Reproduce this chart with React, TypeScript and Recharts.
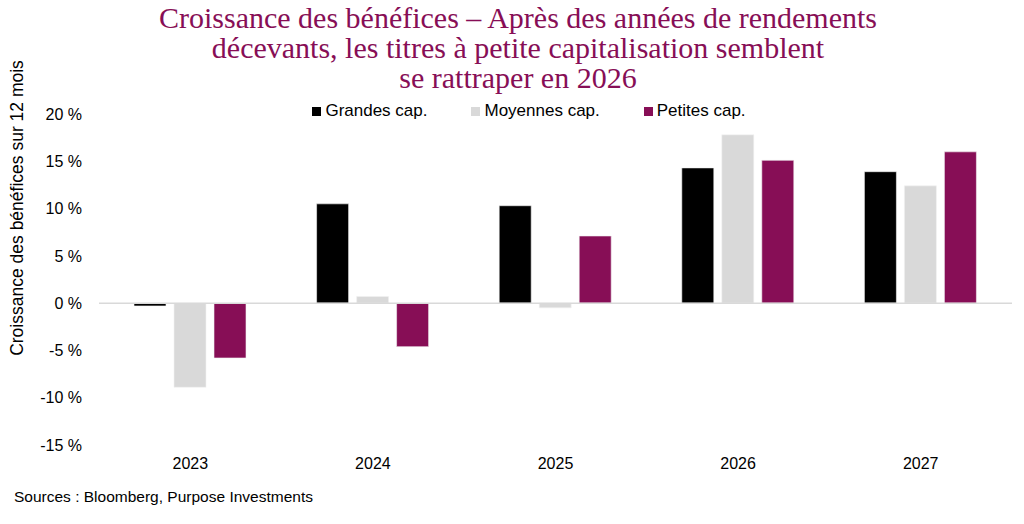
import { Bar, BarChart, Legend, ReferenceLine, XAxis, YAxis } from 'recharts'

const years = ['2023', '2024', '2025', '2026', '2027']
const grandes = [-0.3, 10.5, 10.3, 14.3, 13.9]
const moyennes = [-8.9, 0.7, -0.5, 17.8, 12.4]
const petites = [-5.8, -4.6, 7.1, 15.1, 16.0]
const yTicks = [-15, -10, -5, 0, 5, 10, 15, 20]

const series = [
  { key: 'grandes', name: 'Grandes cap.', color: '#000000' },
  { key: 'moyennes', name: 'Moyennes cap.', color: '#d9d9d9' },
  { key: 'petites', name: 'Petites cap.', color: '#870e56' },
]

const data = years.map((y, i) => ({
  year: y,
  grandes: grandes[i],
  moyennes: moyennes[i],
  petites: petites[i],
}))

const SANS = '"Liberation Sans", Arial, sans-serif'

function LegendRow() {
  return (
    <div
      style={{
        display: 'flex',
        justifyContent: 'center',
        gap: 44,
        paddingLeft: 34,
        fontFamily: SANS,
        fontSize: 17,
        lineHeight: '20px',
        color: '#000',
      }}
    >
      {series.map(s => (
        <div key={s.key} style={{ display: 'flex', alignItems: 'center' }}>
          <span style={{ width: 9, height: 9, background: s.color, marginRight: 4, display: 'inline-block' }} />
          <span>{s.name}</span>
        </div>
      ))}
    </div>
  )
}

function YLabel({ viewBox }: { viewBox?: { x: number; y: number } }) {
  const x = (viewBox?.x ?? 0) + 23
  const y = 208
  return (
    <text
      x={x}
      y={y}
      transform={`rotate(-90, ${x}, ${y})`}
      textAnchor="middle"
      fontFamily={SANS}
      fontSize={17.5}
      fill="#000"
    >
      Croissance des bénéfices sur 12 mois
    </text>
  )
}

export default function App() {
  return (
    <div style={{ position: 'absolute', left: 0, top: 0, width: 1024, height: 524, background: '#fff' }}>
      <div
        style={{
          position: 'absolute',
          top: 3,
          left: 6,
          width: 1024,
          textAlign: 'center',
          fontFamily: '"Liberation Serif", "Times New Roman", serif',
          fontSize: 30,
          lineHeight: '30px',
          color: '#870e56',
        }}
      >
        Croissance des bénéfices – Après des années de rendements
        <br />
        décevants, les titres à petite capitalisation semblent
        <br />
        se rattraper en 2026
      </div>
      <BarChart
        width={1024}
        height={524}
        data={data}
        margin={{ top: 94, right: 12, bottom: 49, left: 0 }}
        barSize={32}
        barGap={8}
      >
        <XAxis
          dataKey="year"
          height={30}
          axisLine={false}
          tickLine={false}
          tickSize={0}
          tickMargin={13}
          tick={{ fontSize: 16, fill: '#000', fontFamily: SANS }}
        />
        <YAxis
          width={99}
          domain={[-15, 20]}
          ticks={yTicks}
          axisLine={false}
          tickLine={false}
          tickSize={0}
          tickMargin={17}
          tickFormatter={(v: number) => `${v} %`}
          tick={{ fontSize: 16, fill: '#000', fontFamily: SANS }}
          label={<YLabel />}
        />
        <Legend verticalAlign="top" content={<LegendRow />} wrapperStyle={{ top: 101, left: 0, width: 1024 }} />
        <ReferenceLine y={0} stroke="#d9d9d9" strokeWidth={1.5} />
        {series.map(s => (
          <Bar
            key={s.key}
            dataKey={s.key}
            name={s.name}
            fill={s.color}
            stroke="#f2f2f2"
            strokeWidth={0.6}
            isAnimationActive={false}
          />
        ))}
      </BarChart>
      <div
        style={{
          position: 'absolute',
          left: 14,
          top: 487,
          fontFamily: SANS,
          fontSize: 15.5,
          lineHeight: '20px',
          color: '#000',
        }}
      >
        Sources : Bloomberg, Purpose Investments
      </div>
    </div>
  )
}
